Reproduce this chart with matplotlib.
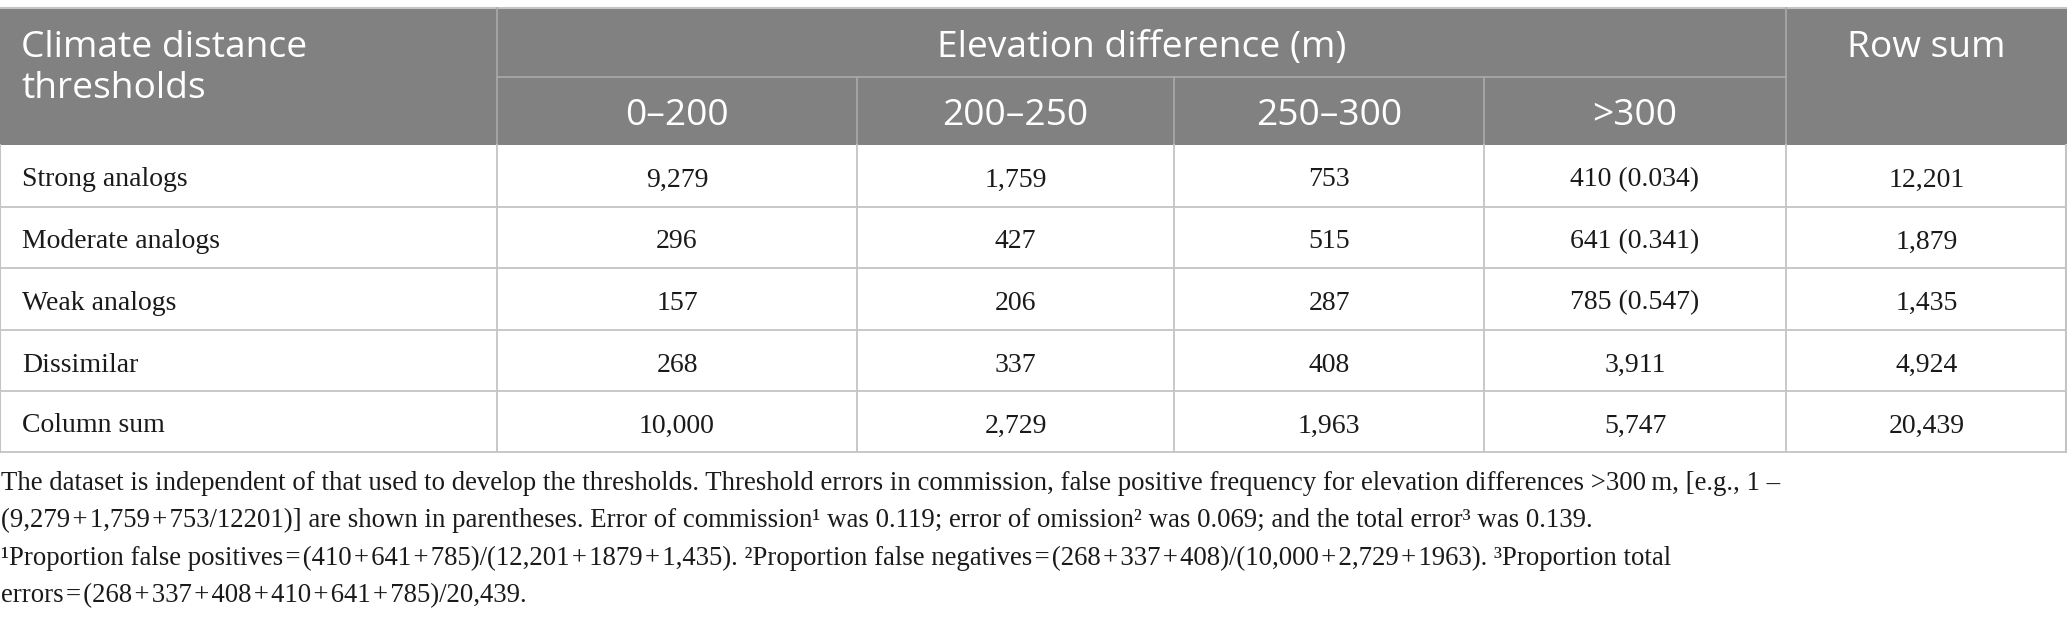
import matplotlib
matplotlib.use("Agg")
import matplotlib.pyplot as plt
from matplotlib.patches import Rectangle

# table content
row_labels = ["Strong analogs", "Moderate analogs", "Weak analogs", "Dissimilar", "Column sum"]
col_labels = ["0\u2013200", "200\u2013250", "250\u2013300", ">300"]
col_0_200 = ["9,279", "296", "157", "268", "10,000"]
col_200_250 = ["1,759", "427", "206", "337", "2,729"]
col_250_300 = ["753", "515", "287", "408", "1,963"]
col_gt300 = ["410 (0.034)", "641 (0.341)", "785 (0.547)", "3,911", "5,747"]
row_sum = ["12,201", "1,879", "1,435", "4,924", "20,439"]

t = "\u200a"  # hair space around operators, as in the source
footnotes = [
    "The dataset is independent of that used to develop the thresholds. Threshold errors in commission, "
    "false positive frequency for elevation differences >300\u2009m, [e.g., 1 \u2013",
    f"(9,279{t}+{t}1,759{t}+{t}753/12201)] are shown in parentheses. Error of commission\u00b9 was 0.119; "
    "error of omission\u00b2 was 0.069; and the total error\u00b3 was 0.139.",
    f"\u00b9Proportion false positives{t}={t}(410{t}+{t}641{t}+{t}785)/(12,201{t}+{t}1879{t}+{t}1,435). "
    f"\u00b2Proportion false negatives{t}={t}(268{t}+{t}337{t}+{t}408)/(10,000{t}+{t}2,729{t}+{t}1963). "
    "\u00b3Proportion total",
    f"errors{t}={t}(268{t}+{t}337{t}+{t}408{t}+{t}410{t}+{t}641{t}+{t}785)/20,439.",
]

W, H = 2067, 621
fig = plt.figure(figsize=(W / 100, H / 100), dpi=100)
ax = fig.add_axes([0, 0, 1, 1])
ax.set_xlim(0, W)
ax.set_ylim(H, 0)
ax.axis("off")

HEAD_BG = "#808180"
GRID = "#c4c4c4"
HEAD_LINE = "#a9aaa9"
SANS = ["Open Sans", "DejaVu Sans"]
SERIF = ["Liberation Serif", "DejaVu Serif"]
INK = "#1a1a1a"

col_x = [0, 497, 857, 1174, 1484, 1786, W]
top, mid, head_bot = 8, 77, 145
row_y = [head_bot, 207, 268, 330, 391, 452]

# header block
ax.add_patch(Rectangle((0, top), W, head_bot - top, color=HEAD_BG, lw=0))
ax.plot([0, W], [top, top], color=GRID, lw=1.5)
ax.plot([col_x[1], col_x[5]], [mid, mid], color=HEAD_LINE, lw=1.2)
for x in (col_x[1], col_x[5]):
    ax.plot([x, x], [top, head_bot], color=HEAD_LINE, lw=1.2)
for x in col_x[2:5]:
    ax.plot([x, x], [mid, head_bot], color=HEAD_LINE, lw=1.2)

hfs = 26.7
ax.text(21, 57, "Climate distance", color="white", fontsize=hfs, family=SANS, va="baseline")
ax.text(21, 98, "thresholds", color="white", fontsize=hfs, family=SANS, va="baseline")
ax.text((col_x[1] + col_x[5]) / 2, 57, "Elevation difference (m)", color="white",
        fontsize=hfs, family=SANS, ha="center", va="baseline")
ax.text((col_x[5] + col_x[6]) / 2, 57, "Row sum", color="white",
        fontsize=hfs, family=SANS, ha="center", va="baseline")
for i, lab in enumerate(col_labels):
    ax.text((col_x[i + 1] + col_x[i + 2]) / 2, 125, lab, color="white",
            fontsize=hfs, family=SANS, ha="center", va="baseline")

# body grid
for y in row_y[1:]:
    ax.plot([0, W], [y, y], color=GRID, lw=1.3)
for x in col_x[1:6]:
    ax.plot([x, x], [row_y[0], row_y[-1]], color=GRID, lw=1.3)
ax.plot([0, 0], [row_y[0], row_y[-1]], color=GRID, lw=1.5)
ax.plot([W - 1, W - 1], [row_y[0], row_y[-1]], color=GRID, lw=1.5)

bfs = 20
columns = [col_0_200, col_200_250, col_250_300, col_gt300, row_sum]
for r, lab in enumerate(row_labels):
    yb = row_y[r] + 41.5
    ax.text(22, yb, lab, fontsize=bfs, family=SERIF, va="baseline", color=INK)
    for c, vals in enumerate(columns):
        ax.text((col_x[c + 1] + col_x[c + 2]) / 2, yb, vals[r], fontsize=bfs,
                family=SERIF, ha="center", va="baseline", color=INK)

# footnotes
for y, line in zip([490, 527, 565, 602], footnotes):
    ax.text(1, y, line, fontsize=19.3, family=SERIF, va="baseline", color=INK)

fig.savefig("out.png", dpi=100, facecolor="white")
